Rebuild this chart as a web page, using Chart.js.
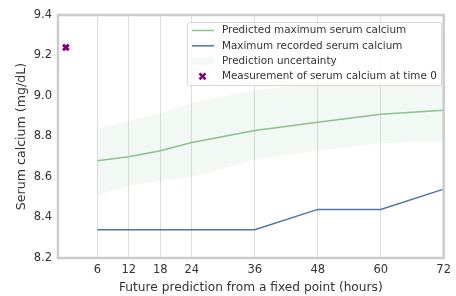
<!DOCTYPE html>
<html>
<head>
<meta charset="utf-8">
<script src="https://cdn.jsdelivr.net/npm/chart.js@4/dist/chart.umd.min.js"></script>
<style>
    html, body { margin: 0; padding: 0; background: #fff; }
    #wrap { width: 456px; height: 296px; }
</style>
</head>
<body>
<div id="wrap"><canvas id="chart" width="456" height="296"></canvas></div>
<script>
// values
const hours = [6, 12, 18, 24, 36, 48, 60, 72];
const predictedMax = [8.68, 8.70, 8.73, 8.77, 8.83, 8.87, 8.91, 8.93];
const recordedMax = [8.34, 8.34, 8.34, 8.34, 8.34, 8.44, 8.44, 8.54];
const lowerBound = [8.51, 8.555, 8.58, 8.60, 8.685, 8.73, 8.765, 8.78];
const upperBound = [8.84, 8.875, 8.915, 8.965, 9.03, 9.06, 9.08, 9.10];
const baselineHour = [0];
const baselineValue = [9.24];
const yTicks = [8.2, 8.4, 8.6, 8.8, 9.0, 9.2, 9.4];

const toPoints = (xs, ys) => xs.map((x, i) => ({ x: x, y: ys[i] }));

Chart.defaults.font.family = "'DejaVu Sans', sans-serif";
Chart.defaults.font.size = 11.5;
Chart.defaults.color = "#333";

const frame = {
    id: "frame",
    afterDatasetsDraw(chart) {
        const { ctx, chartArea: a } = chart;
        ctx.save();
        ctx.strokeStyle = "#cccccc";
        ctx.lineWidth = 2.5;
        ctx.strokeRect(a.left, a.top, a.right - a.left, a.bottom - a.top);
        ctx.restore();
    },
};

// legend drawn inside the plot, upper right, like the original
const boxLegend = {
    id: "boxLegend",
    afterDraw(chart) {
        const ctx = chart.ctx;
        const items = chart.data.datasets.filter((d) => d.legendKind);
        const x = 187, y = 22, w = 254, h = 63;
        ctx.save();
        ctx.fillStyle = "rgba(255,255,255,0.8)";
        ctx.strokeStyle = "#d6d6d6";
        ctx.lineWidth = 1;
        ctx.beginPath();
        ctx.roundRect(x + 0.5, y + 0.5, w, h, 2);
        ctx.fill();
        ctx.stroke();
        ctx.font = "10.4px 'DejaVu Sans'";
        ctx.textBaseline = "middle";
        items.forEach((d, i) => {
            const cy = y + 8.5 + i * 15.3;
            if (d.legendKind === "line") {
                ctx.strokeStyle = d.borderColor;
                ctx.lineWidth = 1.5;
                ctx.beginPath();
                ctx.moveTo(192, cy);
                ctx.lineTo(214, cy);
                ctx.stroke();
            } else if (d.legendKind === "patch") {
                ctx.fillStyle = d.backgroundColor;
                ctx.fillRect(192, cy - 3.5, 22, 7);
            } else {
                ctx.strokeStyle = d.borderColor;
                ctx.lineWidth = 2.6;
                ctx.beginPath();
                ctx.moveTo(199.5, cy - 3);
                ctx.lineTo(205.5, cy + 3);
                ctx.moveTo(205.5, cy - 3);
                ctx.lineTo(199.5, cy + 3);
                ctx.stroke();
            }
            ctx.fillStyle = "#333";
            ctx.fillText(d.label, 222, cy);
        });
        ctx.restore();
    },
};

const ctx = document.getElementById("chart").getContext("2d");
new Chart(ctx, {
    type: "line",
    data: {
        datasets: [
            {
                label: "Predicted maximum serum calcium",
                legendKind: "line",
                data: toPoints(hours, predictedMax),
                borderColor: "#8cc08e",
                borderWidth: 1.5,
                pointRadius: 0,
                tension: 0,
                order: 0,
            },
            {
                label: "Maximum recorded serum calcium",
                legendKind: "line",
                data: toPoints(hours, recordedMax),
                borderColor: "#4c72b0",
                borderWidth: 1.5,
                pointRadius: 0,
                tension: 0,
                order: 0,
            },
            {
                label: "lower",
                data: toPoints(hours, lowerBound),
                borderWidth: 0,
                pointRadius: 0,
                fill: false,
                order: 2,
            },
            {
                label: "Prediction uncertainty",
                legendKind: "patch",
                data: toPoints(hours, upperBound),
                borderWidth: 0,
                pointRadius: 0,
                backgroundColor: "rgba(85,168,104,0.075)",
                fill: "-1",
                order: 2,
            },
            {
                label: "Measurement of serum calcium at time 0",
                legendKind: "marker",
                data: toPoints(baselineHour, baselineValue),
                showLine: false,
                pointStyle: "crossRot",
                pointRadius: 4,
                borderColor: "#800080",
                borderWidth: 3,
                order: 0,
            },
        ],
    },
    options: {
        responsive: false,
        animation: false,
        layout: { padding: { top: 15, right: 9, left: 0, bottom: 0 } },
        plugins: {
            legend: { display: false },
            tooltip: { enabled: false },
        },
        scales: {
            x: {
                type: "linear",
                min: -1.5,
                max: 72,
                afterBuildTicks: (scale) => {
                    scale.ticks = hours.map((v) => ({ value: v }));
                },
                afterFit: (scale) => {
                    scale.height = 38;
                },
                ticks: { padding: 5, maxRotation: 0, autoSkip: false },
                grid: { color: "#dddddd", lineWidth: 1, drawTicks: false },
                border: { display: false },
                title: {
                    display: true,
                    text: "Future prediction from a fixed point (hours)",
                    font: { size: 12.2 },
                    padding: { top: 0, bottom: 1 },
                },
            },
            y: {
                min: 8.2,
                max: 9.4,
                afterBuildTicks: (scale) => {
                    scale.ticks = yTicks.map((v) => ({ value: v }));
                },
                afterFit: (scale) => {
                    scale.width = 58;
                },
                ticks: {
                    padding: 6,
                    callback: (v) => v.toFixed(1),
                },
                grid: { display: false, drawTicks: false },
                border: { display: false },
                title: {
                    display: true,
                    text: "Serum calcium (mg/dL)",
                    font: { size: 12.6 },
                    padding: { top: 14, bottom: 0 },
                },
            },
        },
    },
    plugins: [frame, boxLegend],
});
</script>
</body>
</html>
